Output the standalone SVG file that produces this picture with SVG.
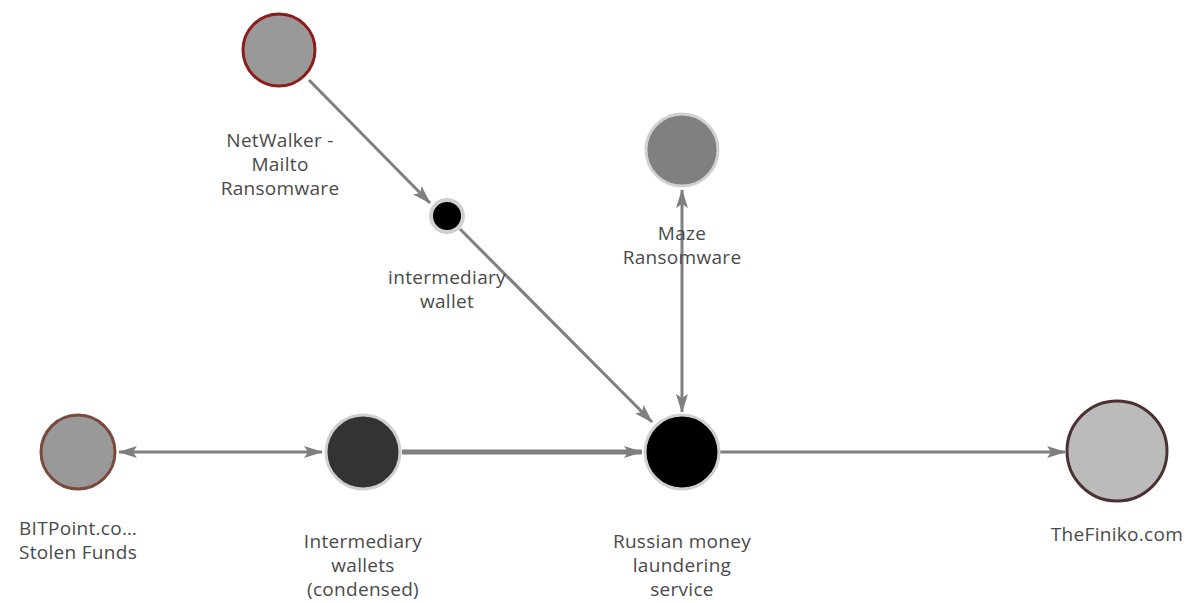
<svg xmlns="http://www.w3.org/2000/svg" width="1195" height="603" viewBox="0 0 1195 603">
<style>
.lbl{font-family:"Open Sans","Noto Sans",sans-serif;font-size:19px;letter-spacing:0.3px;fill:#4a4a4a;text-anchor:middle}
.e{stroke:#7f7f7f;stroke-width:3;fill:none}
</style>
<defs>
<marker id="ah" markerUnits="userSpaceOnUse" markerWidth="20" markerHeight="14" refX="18" refY="7" orient="auto-start-reverse" viewBox="0 0 20 14">
<path d="M0,1 L19,7 L0,13 L4,7 Z" fill="#7f7f7f"/>
</marker>
</defs>
<rect width="1195" height="603" fill="#fff"/>
<g id="connectors">
<line class="e" x1="309" y1="80" x2="430" y2="203" marker-end="url(#ah)"/>
<line class="e" x1="460" y1="229" x2="652" y2="422" marker-end="url(#ah)"/>
<line class="e" x1="682" y1="190" x2="682" y2="412" marker-start="url(#ah)" marker-end="url(#ah)"/>
<line class="e" x1="119" y1="452" x2="322" y2="452" marker-start="url(#ah)" marker-end="url(#ah)"/>
<line class="e" x1="402" y1="452" x2="642" y2="452" style="stroke-width:5" marker-end="url(#ah)"/>
<line class="e" x1="720" y1="452" x2="1065" y2="452" marker-end="url(#ah)"/>
</g>
<g id="netwalker">
<circle cx="279" cy="50" r="36" fill="#999" stroke="#8e1c1c" stroke-width="3"/>
<text class="lbl" x="280" y="147">NetWalker -</text>
<text class="lbl" x="280" y="171">Mailto</text>
<text class="lbl" x="280" y="195">Ransomware</text>
</g>
<g id="intermediary-wallet">
<circle cx="447" cy="216" r="16" fill="#000" stroke="#d0d0d0" stroke-width="4"/>
<text class="lbl" x="447" y="284">intermediary</text>
<text class="lbl" x="447" y="308">wallet</text>
</g>
<g id="maze">
<circle cx="682" cy="150" r="36" fill="#808080" stroke="#d0d0d0" stroke-width="3"/>
<text class="lbl" x="682" y="240">Maze</text>
<text class="lbl" x="682" y="264">Ransomware</text>
</g>
<g id="bitpoint">
<circle cx="78" cy="452" r="37" fill="#999" stroke="#7a4a3c" stroke-width="3"/>
<text class="lbl" x="78" y="535">BITPoint.co…</text>
<text class="lbl" x="78" y="559">Stolen Funds</text>
</g>
<g id="intermediary-wallets">
<circle cx="363" cy="452" r="37" fill="#333" stroke="#d0d0d0" stroke-width="3"/>
<text class="lbl" x="363" y="548">Intermediary</text>
<text class="lbl" x="363" y="572">wallets</text>
<text class="lbl" x="363" y="596">(condensed)</text>
</g>
<g id="russian">
<circle cx="682" cy="452" r="37" fill="#000" stroke="#d0d0d0" stroke-width="3"/>
<text class="lbl" x="682" y="548">Russian money</text>
<text class="lbl" x="682" y="572">laundering</text>
<text class="lbl" x="682" y="596">service</text>
</g>
<g id="finiko">
<circle cx="1117" cy="451" r="50" fill="#bbb" stroke="#4a3232" stroke-width="3"/>
<text class="lbl" x="1117" y="541">TheFiniko.com</text>
</g>
</svg>
